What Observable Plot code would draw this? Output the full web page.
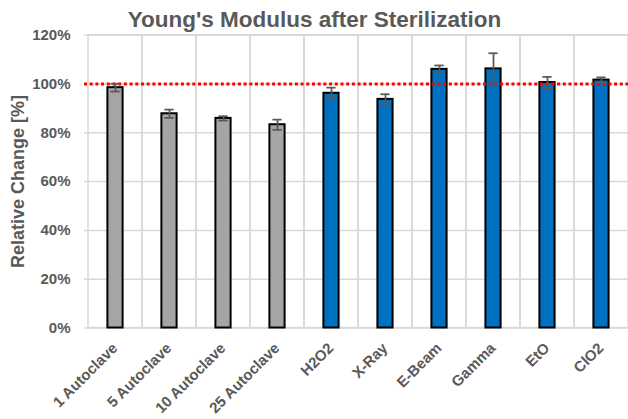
<!DOCTYPE html>
<html>
<head>
<meta charset="utf-8">
<script src="https://cdn.jsdelivr.net/npm/d3@7"></script>
<script src="https://cdn.jsdelivr.net/npm/@observablehq/plot@0.6"></script>
<style>
  html, body { margin: 0; padding: 0; background: #ffffff; }
  #chart svg { display: block; }
</style>
</head>
<body>
<div id="chart"></div>
<script>
// ---- data ----
const categories = ["1 Autoclave", "5 Autoclave", "10 Autoclave", "25 Autoclave", "H2O2", "X-Ray", "E-Beam", "Gamma", "EtO", "ClO2"];
const values = [98.5, 87.8, 85.9, 83.3, 96.2, 93.7, 106.0, 106.2, 100.6, 101.6];   // relative change, %
const errors = [1.6, 1.7, 0.9, 2.1, 2.3, 2.1, 1.6, 6.4, 2.3, 1.1];                 // +/- error, %
const groups = ["Autoclave", "Autoclave", "Autoclave", "Autoclave", "Other", "Other", "Other", "Other", "Other", "Other"];
const yTicks = [0, 20, 40, 60, 80, 100, 120];
const reference = [100];
const title = "Young's Modulus after Sterilization";
const yTitle = "Relative Change [%]";

const data = categories.map((c, i) => ({cat: c, value: values[i], err: errors[i], group: groups[i]}));

const textColor = "#595959";
const gridColor = "#d9d9d9";
const font = "'Liberation Sans', Arial, Helvetica, sans-serif";

const chart = Plot.plot({
  width: 628,
  height: 419,
  marginLeft: 84,
  marginRight: 0,
  marginTop: 34.7,
  marginBottom: 91.5,
  style: {fontFamily: font, background: "#ffffff", overflow: "hidden"},
  x: {domain: categories, range: [84, 632], padding: 0, axis: null},
  y: {domain: [0, 120], axis: null},
  color: {domain: ["Autoclave", "Other"], range: ["#a5a5a5", "#0070c0"]},
  marks: [
    // horizontal gridlines
    Plot.ruleY(yTicks, {stroke: gridColor, strokeWidth: 1.5}),
    // vertical gridlines at category boundaries
    Plot.barY(categories, {x: d => d, y1: 0, y2: 120, fill: "none", stroke: gridColor, strokeWidth: 1.5}),
    // bars
    Plot.barY(data, {x: "cat", y: "value", fill: "group", stroke: "#000000", strokeWidth: 2, insetLeft: 19.4, insetRight: 19.4}),
    // 100% reference line
    Plot.ruleY(reference, {stroke: "#ff0000", strokeWidth: 3, strokeDasharray: "3,2.7"}),
    // error bars
    Plot.ruleX(data, {x: "cat", y1: d => d.value - d.err, y2: d => d.value + d.err, stroke: textColor, strokeWidth: 1.75}),
    Plot.tickY(data, {x: "cat", y: d => d.value + d.err, stroke: textColor, strokeWidth: 1.75, insetLeft: 22.4, insetRight: 22.4}),
    Plot.tickY(data, {x: "cat", y: d => d.value - d.err, stroke: textColor, strokeWidth: 1.75, insetLeft: 22.4, insetRight: 22.4}),
    // y tick labels
    Plot.text(yTicks, {y: d => d, text: d => d + "%", frameAnchor: "left", dx: -14, textAnchor: "end",
      fontSize: 15, fontWeight: "bold", fill: textColor}),
    // x tick labels (rotated -45°)
    Plot.text(data, {x: "cat", y: () => 0, text: "cat", rotate: -45, textAnchor: "end", lineAnchor: "bottom",
      dx: 3, dy: 21, fontSize: 15, fontWeight: "bold", fill: textColor}),
    // y axis title
    Plot.text([yTitle], {frameAnchor: "left", rotate: -90, textAnchor: "middle", lineAnchor: "middle", dx: -66.5,
      fontSize: 18, fontWeight: "bold", fill: textColor}),
    // chart title
    Plot.text([title], {frameAnchor: "top", textAnchor: "middle", dx: -42, dy: -15.5, lineAnchor: "middle",
      fontSize: 22.5, fontWeight: "bold", fill: textColor})
  ]
});

document.getElementById("chart").appendChild(chart);
</script>
</body>
</html>
